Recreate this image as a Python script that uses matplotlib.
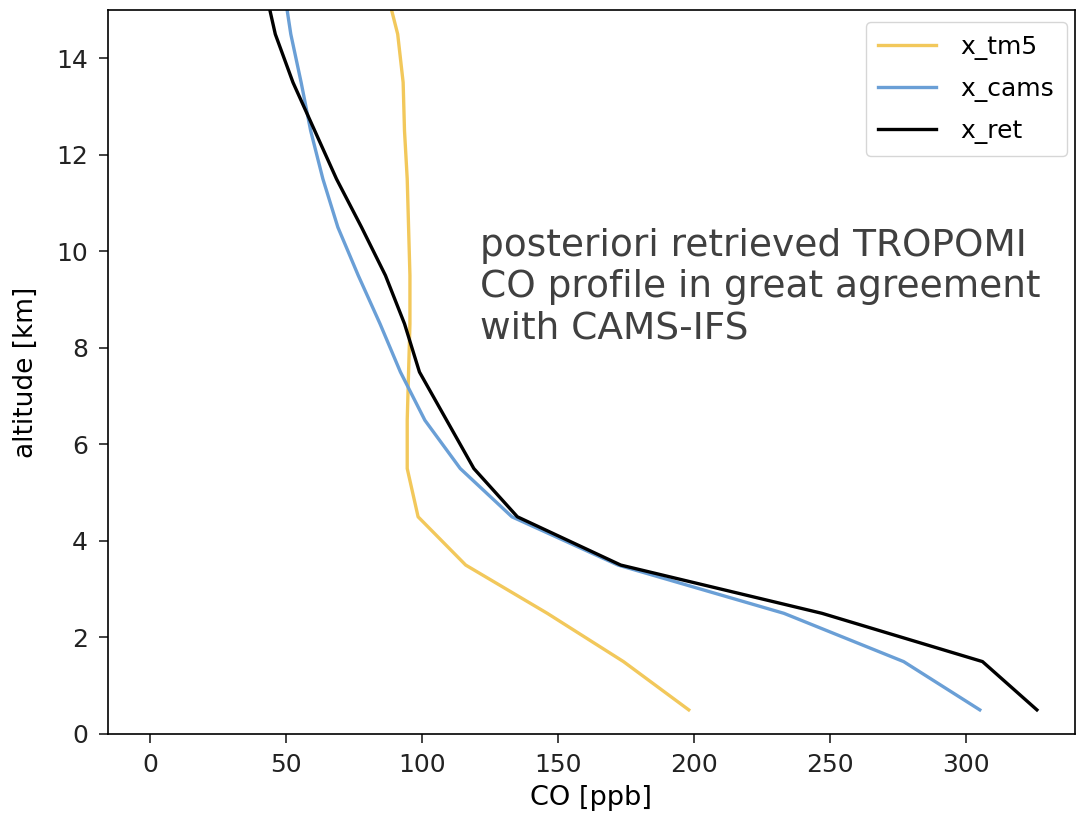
import matplotlib
matplotlib.use("Agg")
import matplotlib.pyplot as plt

# altitude levels (km) and CO profiles (ppb)
altitude = [0.5, 1.5, 2.5, 3.5, 4.5, 5.5, 6.5, 7.5, 8.5, 9.5, 10.5, 11.5, 12.5, 13.5, 14.5, 15.5]
x_tm5 = [198, 174, 146, 116, 98.5, 94.5, 94.5, 95, 95.5, 95.5, 95, 94.5, 93.5, 93, 91, 86.5]
x_cams = [305, 277, 233, 172, 133, 114, 101, 92, 84.5, 76.5, 69, 63.5, 59, 55.5, 51.7, 49]
x_ret = [326, 306, 247, 173, 135, 119, 109, 99, 93.5, 86.5, 77.7, 68.5, 60.5, 52.5, 46, 42]

note = "posteriori retrieved TROPOMI\nCO profile in great agreement\nwith CAMS-IFS"

fig = plt.figure(figsize=(10.78, 8.16), dpi=100)
ax = fig.add_axes([0.1002, 0.1005, 0.897, 0.8872])

ax.plot(x_tm5, altitude, color="#F2C85B", lw=2.4, label="x_tm5")
ax.plot(x_cams, altitude, color="#6A9FD6", lw=2.4, label="x_cams")
ax.plot(x_ret, altitude, color="black", lw=2.4, label="x_ret")

ax.set_xlim(-15.5, 340)
ax.set_ylim(0, 15)
ax.set_xticks([0, 50, 100, 150, 200, 250, 300])
ax.set_yticks([0, 2, 4, 6, 8, 10, 12, 14])
ax.tick_params(labelsize=18, length=6.5, width=1.2, colors="#222222")
ax.tick_params(axis="x", pad=7)
ax.tick_params(axis="y", pad=8)
for s in ax.spines.values():
    s.set_linewidth(1.2)

ax.set_xlabel("CO [ppb]", fontsize=19.5, labelpad=6)
ax.set_ylabel("altitude [km]", fontsize=19, labelpad=12)

ax.legend(loc="upper right", fontsize=18, handlelength=2.3, borderpad=0.5,
          labelspacing=0.68, handletextpad=1.0, borderaxespad=0,
          bbox_to_anchor=(0.9917, 0.9834))

ax.text(0.385, 0.617, note, transform=ax.transAxes, fontsize=27,
        family="DejaVu Sans", color="#404040",
        va="center", ha="left", linespacing=1.2)

fig.savefig("out.png", dpi=100)
